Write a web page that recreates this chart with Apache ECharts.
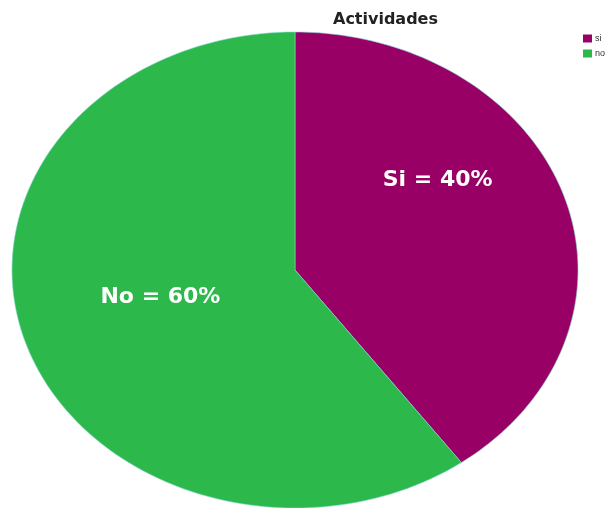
<!DOCTYPE html>
<html>
<head>
<meta charset="utf-8">
<script src="https://cdn.jsdelivr.net/npm/echarts@6/dist/echarts.min.js"></script>
<style>
  html, body { margin: 0; padding: 0; background: #fff; }
  #chart { width: 615px; height: 508px; }
</style>
</head>
<body>
<div id="chart"></div>
<script>
// datos
const categories = ['si', 'no'];
const values = [40, 60];
const labels = ['Si = 40%', 'No = 60%'];
const colors = ['#990066', '#2DB84B'];

const total = values.reduce((a, b) => a + b, 0);

// elipse
const cx = 295, cy = 270, rx = 283, ry = 238;
const labelOffsets = [[0, -51], [0, -9]];

const chart = echarts.init(document.getElementById('chart'));

const series = categories.map(function (name, i) {
  return {
    type: 'custom',
    name: name,
    coordinateSystem: 'none',
    itemStyle: { color: colors[i] },
    data: [values[i]],
    renderItem: function (params, api) {
      const before = values.slice(0, i).reduce((a, b) => a + b, 0);
      const start = before / total * Math.PI * 2;
      const end = (before + api.value(0)) / total * Math.PI * 2;
      const pts = [[cx, cy]];
      const steps = 120;
      for (let k = 0; k <= steps; k++) {
        const t = start + (end - start) * k / steps;
        pts.push([cx + rx * Math.sin(t), cy - ry * Math.cos(t)]);
      }
      const mid = (start + end) / 2;
      const f = i === 0 ? 0.53 : 0.5;
      const lx = cx + rx * Math.sin(mid) * f + labelOffsets[i][0];
      const ly = cy - ry * Math.cos(mid) * f + labelOffsets[i][1];
      return {
        type: 'group',
        children: [
          {
            type: 'polygon',
            shape: { points: pts },
            style: { fill: colors[i], stroke: '#7fd6d0', lineWidth: 0.6 }
          },
          {
            type: 'text',
            x: lx,
            y: ly,
            style: {
              text: labels[i],
              fill: '#ffffff',
              font: 'bold 22px "DejaVu Sans"',
              align: 'center',
              verticalAlign: 'middle'
            }
          }
        ]
      };
    }
  };
});

chart.setOption({
  animation: false,
  title: {
    text: 'Actividades',
    left: 328,
    top: 7,
    textStyle: {
      fontFamily: 'DejaVu Sans',
      fontWeight: 'bold',
      fontSize: 16,
      color: '#222'
    }
  },
  legend: {
    data: categories,
    orient: 'vertical',
    left: 578,
    top: 29,
    icon: 'rect',
    itemWidth: 9,
    itemHeight: 8,
    itemGap: 6,
    textStyle: { fontSize: 9, color: '#333', padding: [0, 0, 0, -2] }
  },
  series: series
});
</script>
</body>
</html>
